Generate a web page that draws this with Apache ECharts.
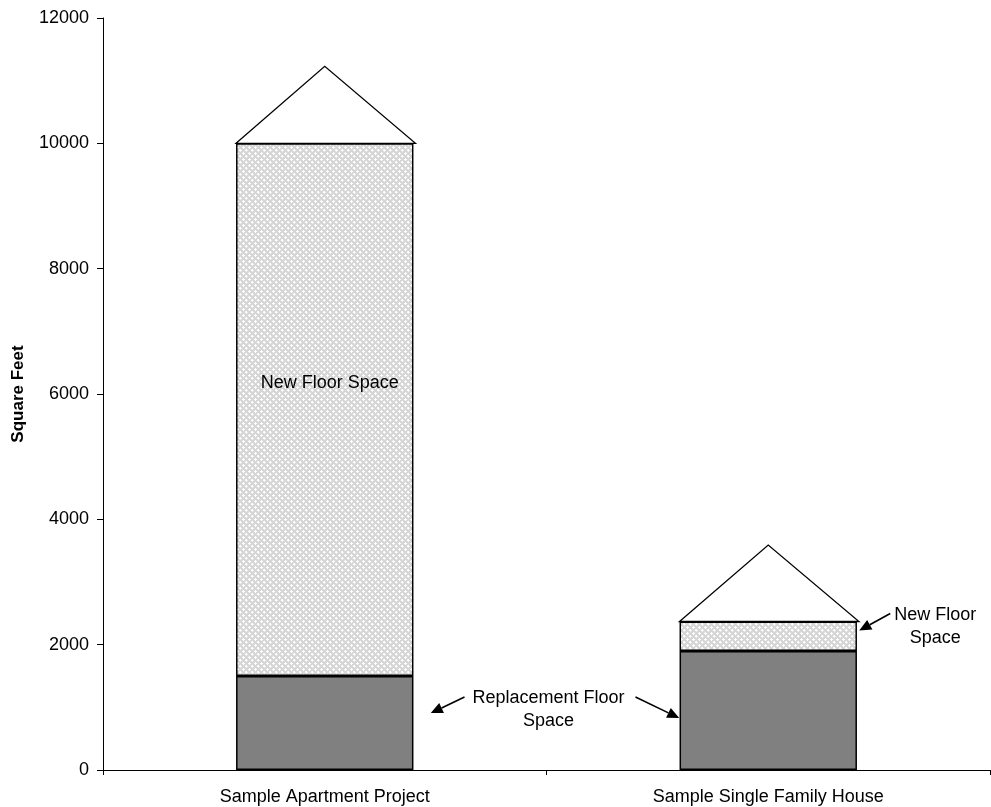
<!DOCTYPE html>
<html>
<head>
<meta charset="utf-8">
<script src="https://cdn.jsdelivr.net/npm/echarts@6/dist/echarts.min.js"></script>
<style>
  html, body { margin: 0; padding: 0; background: #fff; }
  #chart { width: 991px; height: 807px; }
</style>
</head>
<body>
<div id="chart"></div>
<script>
// Floor space comparison
const categories = ['Sample Apartment Project', 'Sample Single Family House'];
const replacementFloor = [1500, 1900];
const newFloor = [8500, 470];
const roofPeak = [11230, 3590];
const yTicks = [0, 2000, 4000, 6000, 8000, 10000, 12000];

const FONT = '"Liberation Sans", Arial, sans-serif';

// Light cross-hatch fill for the new floor space
function hatchPattern() {
  const n = 6;
  const c = document.createElement('canvas');
  c.width = n; c.height = n;
  const g = c.getContext('2d');
  g.fillStyle = '#d6d6d6';
  g.fillRect(0, 0, n, n);
  g.fillStyle = '#ffffff';
  // white diamond dots on a light grey ground
  [[3, 2], [2, 3], [3, 3], [4, 3], [3, 4], [0, 0], [5, 0], [0, 5]].forEach(p => g.fillRect(p[0], p[1], 1, 1));
  g.fillStyle = '#f0f0f0';
  [[1, 0], [0, 1], [5, 5]].forEach(p => g.fillRect(p[0], p[1], 1, 1));
  return c;
}

const chart = echarts.init(document.getElementById('chart'), null, { renderer: 'canvas' });

const roofData = categories.map((c, i) => [i, replacementFloor[i] + newFloor[i], roofPeak[i]]);

const option = {
  animation: false,
  backgroundColor: '#ffffff',
  grid: { left: 103, right: 1, top: 18, bottom: 37, containLabel: false, outerBoundsMode: 'none' },
  xAxis: {
    type: 'category',
    data: categories,
    boundaryGap: true,
    axisLine: { show: true, lineStyle: { color: '#000', width: 1 } },
    axisTick: { show: true, alignWithLabel: false, length: 5, inside: false, lineStyle: { color: '#000' } },
    axisLabel: { color: '#000', fontFamily: FONT, fontSize: 18, margin: 18 },
    splitLine: { show: false }
  },
  yAxis: {
    type: 'value',
    min: yTicks[0],
    max: yTicks[yTicks.length - 1],
    interval: yTicks[1] - yTicks[0],
    name: 'Square Feet',
    nameLocation: 'middle',
    nameGap: 76,
    nameRotate: 90,
    nameTextStyle: { color: '#000', fontFamily: FONT, fontSize: 17, fontWeight: 'bold' },
    axisLine: { show: true, lineStyle: { color: '#000', width: 1 } },
    axisTick: { show: true, length: 6, lineStyle: { color: '#000' } },
    axisLabel: { color: '#000', fontFamily: FONT, fontSize: 18, margin: 14, formatter: v => String(v) },
    splitLine: { show: false }
  },
  series: [
    {
      name: 'Replacement Floor Space',
      type: 'bar',
      stack: 'floor',
      barWidth: '40%',
      data: replacementFloor,
      itemStyle: { color: '#808080', borderColor: '#000', borderWidth: 1.5 }
    },
    {
      name: 'New Floor Space',
      type: 'bar',
      stack: 'floor',
      barWidth: '40%',
      data: newFloor,
      itemStyle: { color: { image: hatchPattern(), repeat: 'repeat' }, borderColor: '#000', borderWidth: 1.5 }
    },
    {
      name: 'Roof',
      type: 'custom',
      data: roofData,
      encode: { x: 0, y: [1, 2] },
      z: 3,
      renderItem: function (params, api) {
        const base = api.coord([api.value(0), api.value(1)]);
        const peak = api.coord([api.value(0), api.value(2)]);
        const half = api.size([1, 0])[0] * 0.2;
        return {
          type: 'polygon',
          shape: { points: [[base[0] - half, base[1]], [peak[0], peak[1]], [base[0] + half + 2, base[1]]] },
          style: { fill: '#ffffff', stroke: '#000', lineWidth: 1.3 }
        };
      }
    }
  ]
};

chart.setOption(option);

// Annotations placed relative to the bars
function arrow(x1, y1, x2, y2) {
  const ang = Math.atan2(y2 - y1, x2 - x1);
  const len = 12, w = 5.5;
  const bx = x2 - len * Math.cos(ang), by = y2 - len * Math.sin(ang);
  const px = -Math.sin(ang) * w, py = Math.cos(ang) * w;
  return [
    { type: 'line', shape: { x1: x1, y1: y1, x2: bx, y2: by }, style: { stroke: '#000', lineWidth: 1.6 }, z: 10 },
    { type: 'polygon', shape: { points: [[x2, y2], [bx + px, by + py], [bx - px, by - py]] }, style: { fill: '#000' }, z: 10 }
  ];
}

const cx0 = chart.convertToPixel({ xAxisIndex: 0 }, categories[0]);
const cx1 = chart.convertToPixel({ xAxisIndex: 0 }, categories[1]);
const yPix = v => chart.convertToPixel({ yAxisIndex: 0 }, v);
const textStyle = (t) => ({ text: t, fill: '#000', font: '18px ' + FONT, align: 'center', verticalAlign: 'middle', lineHeight: 23 });

const midX = (cx0 + cx1) / 2;
const repY = yPix(1100);
const houseTop = yPix(replacementFloor[1] + newFloor[1]);

const graphics = [
  { type: 'text', x: cx0 + 5, y: yPix(6170), style: textStyle('New Floor Space'), z: 10 },
  { type: 'text', x: midX + 2, y: repY + 8, style: textStyle('Replacement Floor\nSpace'), z: 10 },
  { type: 'text', x: cx1 + 167, y: houseTop + 5, style: textStyle('New Floor\nSpace'), z: 10 }
];
graphics.push(...arrow(midX - 82, repY - 4, cx0 + 106, repY + 12));
graphics.push(...arrow(midX + 89, repY - 4, cx1 - 89, repY + 17));
graphics.push(...arrow(cx1 + 122, houseTop - 8, cx1 + 91, houseTop + 9));

chart.setOption({ graphic: graphics });
</script>
</body>
</html>
